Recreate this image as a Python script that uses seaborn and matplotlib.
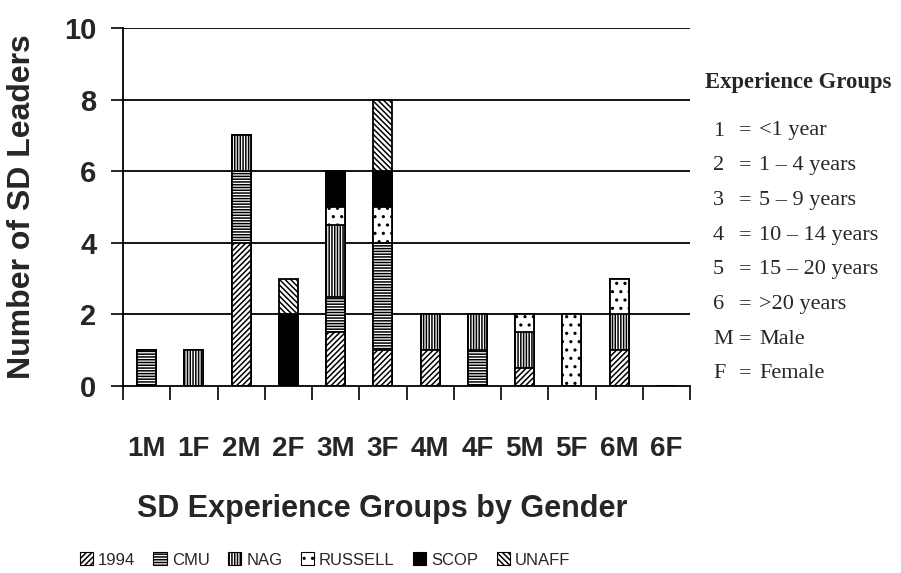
import numpy as np
import pandas as pd
import matplotlib
matplotlib.use("Agg")
import matplotlib.pyplot as plt
from matplotlib.patches import Patch
from matplotlib.ticker import FixedLocator
import seaborn as sns

cats = ['1M', '1F', '2M', '2F', '3M', '3F', '4M', '4F', '5M', '5F', '6M', '6F']
series_names = ['1994', 'CMU', 'NAG', 'RUSSELL', 'SCOP', 'UNAFF']
v1994 = [0, 0, 4, 0, 1.5, 1, 1, 0, 0.5, 0, 1, 0]
vcmu = [1, 0, 2, 0, 1, 3, 0, 1, 0, 0, 0, 0]
vnag = [0, 1, 1, 0, 2, 0, 1, 1, 1, 0, 1, 0]
vrussell = [0, 0, 0, 0, 0.5, 1, 0, 0, 0.5, 2, 1, 0]
vscop = [0, 0, 0, 2, 1, 1, 0, 0, 0, 0, 0, 0]
vunaff = [0, 0, 0, 1, 0, 2, 0, 0, 0, 0, 0, 0]
yticks = [0, 2, 4, 6, 8, 10]
key_lines = [('1', '<1 year'), ('2', '1 \u2013 4 years'), ('3', '5 \u2013 9 years'),
             ('4', '10 \u2013 14 years'), ('5', '15 \u2013 20 years'),
             ('6', '>20 years'), ('M', 'Male'), ('F', 'Female')]

sns.set_theme(style="white")
plt.rcParams['font.family'] = ['Liberation Sans', 'DejaVu Sans']
plt.rcParams['hatch.linewidth'] = 1.1

hatches = ['//////', '------', '||||||', '..', None, '\\\\\\\\\\\\']
facecols = ['white', 'white', 'white', 'white', 'black', 'white']

values = [v1994, vcmu, vnag, vrussell, vscop, vunaff]
cum = np.cumsum(np.array(values, dtype=float), axis=0)

fig = plt.figure(figsize=(9.01, 5.73), dpi=100)
ax = fig.add_axes([123 / 901, 1 - 386 / 573, (690 - 123) / 901, (386 - 28) / 573])

for i in reversed(range(len(series_names))):
    df = pd.DataFrame({'cat': cats, 'val': cum[i]})
    sns.barplot(data=df, x='cat', y='val', order=cats, ax=ax, color=facecols[i],
                saturation=1, width=0.4, edgecolor='black', linewidth=1.3,
                hatch=hatches[i], zorder=3)

ax.set_ylim(0, 10)
ax.set_xlim(-0.5, len(cats) - 0.5)
ax.set_yticks(yticks)
ax.set_yticklabels([str(t) for t in yticks])
for t in yticks[1:]:
    ax.axhline(t, color='black', lw=1.3, zorder=1)

for s in ['top', 'right']:
    ax.spines[s].set_visible(False)
for s in ['left', 'bottom']:
    ax.spines[s].set_color('black')
    ax.spines[s].set_linewidth(1.3)
    ax.spines[s].set_zorder(5)

ax.tick_params(axis='x', which='major', length=0, pad=36)
ax.xaxis.set_minor_locator(FixedLocator(np.arange(-0.5, len(cats), 1.0)))
ax.tick_params(axis='x', which='minor', length=10, width=1.2, color='black', direction='out', bottom=True)
ax.tick_params(axis='y', length=9, width=1.2, color='black', direction='out', left=True, pad=10)

for lab in ax.get_xticklabels():
    lab.set_fontweight('bold')
    lab.set_fontsize(20)
for lab in ax.get_yticklabels():
    lab.set_fontweight('bold')
    lab.set_fontsize(21)

ax.set_xlabel('')
ax.set_ylabel('')
fig.text(22 / 901, 1 - 207 / 573, 'Number of SD Leaders', rotation=90, ha='center', va='center',
         fontsize=23, fontweight='bold')
fig.text(382 / 901, 1 - 509 / 573, 'SD Experience Groups by Gender', ha='center', va='center',
         fontsize=22, fontweight='bold')

# key on the right
serif = ['Liberation Serif', 'DejaVu Serif']
fig.text(705 / 901, 1 - 83 / 573, 'Experience Groups', ha='left', va='center',
         fontsize=16.3, fontweight='bold', family=serif)
y0 = 131
for k, (a, b) in enumerate(key_lines):
    yy = 1 - (y0 + k * 34.7) / 573
    fig.text(713 / 901, yy, a, ha='left', va='center', fontsize=16, family=serif)
    fig.text(745 / 901, yy, '=', ha='center', va='center', fontsize=16, family=serif)
    fig.text(759 / 901, yy, b, ha='left', va='center', fontsize=16, family=serif)

handles = [Patch(facecolor=facecols[i], edgecolor='black', hatch=hatches[i], linewidth=0.8)
           for i in range(len(series_names))]
fig.legend(handles, series_names, loc='center', bbox_to_anchor=(325 / 901, 1 - 560 / 573),
           ncol=6, frameon=False, fontsize=12, handlelength=0.8, handleheight=0.8,
           handletextpad=0.3, columnspacing=1.1)

fig.savefig('out.png', dpi=100)
